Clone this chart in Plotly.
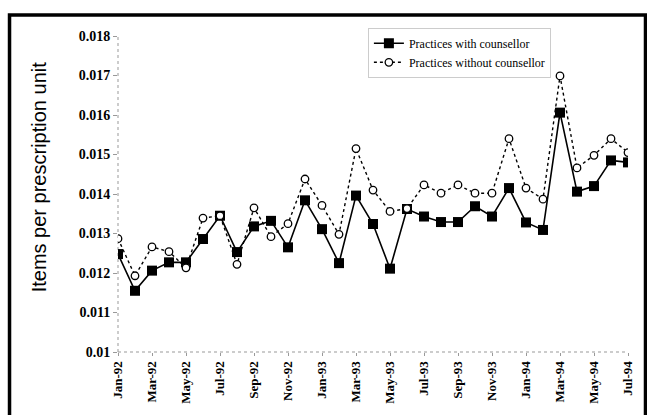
import plotly.graph_objects as go

months = ["Jan-92", "Feb-92", "Mar-92", "Apr-92", "May-92", "Jun-92", "Jul-92", "Aug-92",
          "Sep-92", "Oct-92", "Nov-92", "Dec-92", "Jan-93", "Feb-93", "Mar-93", "Apr-93",
          "May-93", "Jun-93", "Jul-93", "Aug-93", "Sep-93", "Oct-93", "Nov-93", "Dec-93",
          "Jan-94", "Feb-94", "Mar-94", "Apr-94", "May-94", "Jun-94", "Jul-94"]

with_counsellor = [0.01248, 0.01155, 0.01206, 0.01227, 0.01227, 0.01286, 0.01345, 0.01253,
                   0.01318, 0.01332, 0.01265, 0.01384, 0.01311, 0.01225, 0.01396, 0.01324,
                   0.01211, 0.01362, 0.01343, 0.01329, 0.01329, 0.01369, 0.01343, 0.01415,
                   0.01328, 0.01309, 0.01606, 0.01406, 0.01420, 0.01485, 0.01480]

without_counsellor = [0.01287, 0.01193, 0.01266, 0.01254, 0.01213, 0.01339, 0.01345, 0.01222,
                      0.01365, 0.01292, 0.01325, 0.01438, 0.01371, 0.01298, 0.01515, 0.01410,
                      0.01356, 0.01363, 0.01423, 0.01402, 0.01423, 0.01402, 0.01402, 0.01540,
                      0.01415, 0.01387, 0.01699, 0.01466, 0.01498, 0.01540, 0.01505]

tick_labels = months[::2]
y_ticks = [0.01, 0.011, 0.012, 0.013, 0.014, 0.015, 0.016, 0.017, 0.018]
y_tick_text = ["0.01", "0.011", "0.012", "0.013", "0.014", "0.015", "0.016", "0.017", "0.018"]

serif = "Liberation Serif, Times New Roman, serif"

fig = go.Figure()
fig.add_trace(go.Scatter(
    x=months, y=with_counsellor, mode="lines+markers",
    name="Practices with counsellor",
    line=dict(color="black", width=1.6),
    marker=dict(symbol="square", size=10, color="black", line=dict(color="black", width=0)),
))
fig.add_trace(go.Scatter(
    x=months, y=without_counsellor, mode="lines+markers",
    name="Practices without counsellor",
    line=dict(color="black", width=1.4, dash="3px,3px"),
    marker=dict(symbol="circle", size=7.5, color="white", line=dict(color="black", width=1.3)),
))

# outer thick border (paper coords)
fig.add_shape(type="rect", xref="paper", yref="paper",
              x0=-0.2127, x1=1.0343, y0=-0.25, y1=1.0664,
              line=dict(color="black", width=3.5), fillcolor="rgba(0,0,0,0)", layer="above")
# dotted axis lines
fig.add_shape(type="line", xref="paper", yref="paper", x0=0, x1=0, y0=0, y1=1,
              line=dict(color="#999999", width=1, dash="dot"), layer="below")
fig.add_shape(type="line", xref="paper", yref="paper", x0=0, x1=1, y0=0, y1=0,
              line=dict(color="#999999", width=1, dash="dot"), layer="below")

fig.add_annotation(
    text="Items per prescription unit", textangle=-90,
    xref="paper", yref="paper", x=-0.155, y=0.5557,
    xanchor="center", yanchor="middle", showarrow=False,
    font=dict(family="Liberation Sans, Arial, sans-serif", size=20, color="black"),
)

fig.update_layout(
    width=647, height=415,
    margin=dict(l=118, r=19, t=35.5, b=63.3),
    paper_bgcolor="white", plot_bgcolor="white",
    showlegend=True,
    legend=dict(
        x=0.49, y=1.026, xanchor="left", yanchor="top",
        bgcolor="white", bordercolor="#cccccc", borderwidth=1,
        font=dict(family=serif, size=12, color="black"),
        tracegroupgap=0, itemsizing="trace",
    ),
    xaxis=dict(
        type="category", range=[0, 30],
        tickmode="array", tickvals=tick_labels, ticktext=["<b>%s</b>" % t for t in tick_labels],
        tickangle=-90, showgrid=False, zeroline=False, showline=False,
        ticks="outside", ticklen=3, tickcolor="#999999",
        tickfont=dict(family=serif, size=13, color="black"),
    ),
    yaxis=dict(
        range=[0.01, 0.018], tickvals=y_ticks, ticktext=["<b>%s</b>" % t for t in y_tick_text],
        showgrid=False, zeroline=False, showline=False,
        ticks="outside", ticklen=4, tickcolor="#999999",
        tickfont=dict(family=serif, size=14, color="black"),
    ),
)

fig.write_html("out.html", config={"displayModeBar": False},
               post_script="document.body.style.margin='0px';document.body.style.overflow='hidden';")
